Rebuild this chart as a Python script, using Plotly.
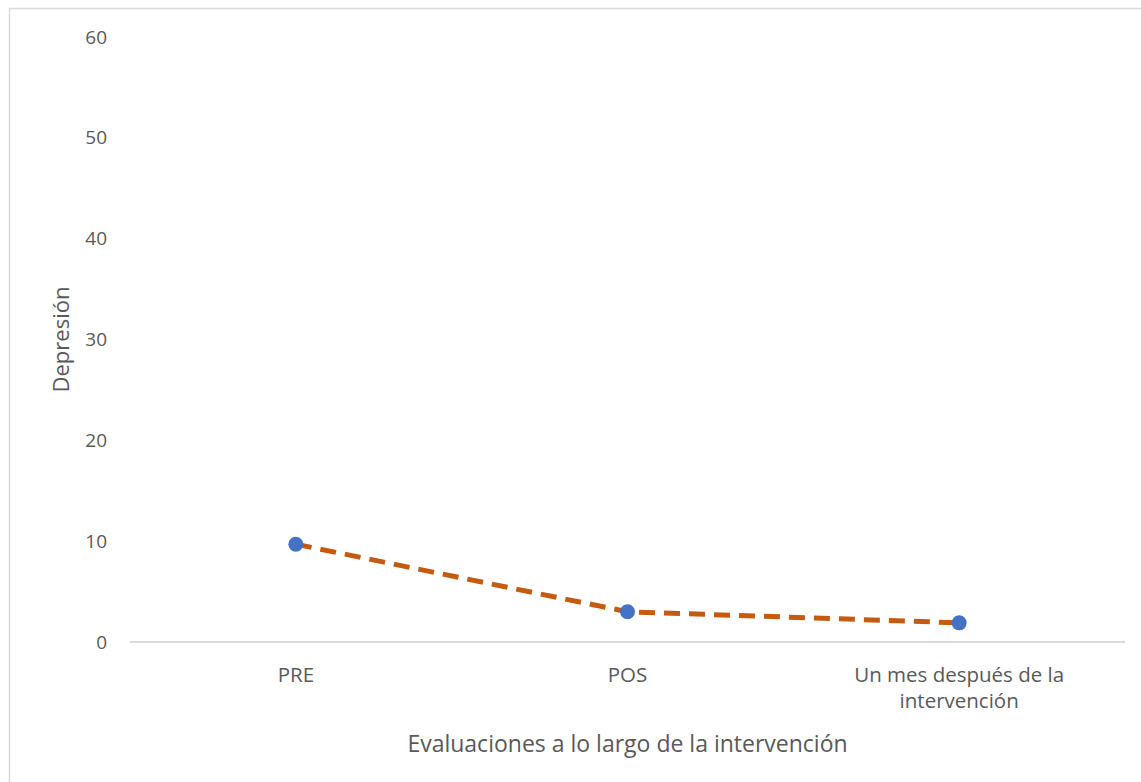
import plotly.graph_objects as go

# Depression scores across the three assessment points
categories = ["PRE", "POS", "Un mes después de la<br>intervención"]
depresion = [9.7, 3.0, 1.9]
y_ticks = [0, 10, 20, 30, 40, 50, 60]

W, H = 1141, 782
L, R, T, B = 130, 16, 37, 140
pw, ph = W - L - R, H - T - B

fig = go.Figure()
fig.add_trace(go.Scatter(
    x=categories, y=depresion, mode="lines+markers",
    line=dict(color="#C55A11", width=5, dash="16px,9px"),
    marker=dict(color="#4472C4", size=15),
    showlegend=False, hoverinfo="skip",
))

font = "Open Sans, Liberation Sans, sans-serif"
fig.update_layout(
    width=W, height=H,
    margin=dict(l=L, r=R, t=T, b=B),
    paper_bgcolor="white", plot_bgcolor="white",
    font=dict(family=font, color="#595959", size=19),
    xaxis=dict(
        range=[-0.5, 2.5], automargin=False,
        showgrid=False, showline=False, zeroline=False,
        ticks="", tickfont=dict(size=20.5), ticklabelstandoff=18,
        title=dict(text="Evaluaciones a lo largo de la intervención",
                   font=dict(size=23), standoff=22),
    ),
    yaxis=dict(
        range=[0, 60], tickvals=y_ticks, showgrid=False, automargin=False,
        zeroline=True, zerolinecolor="#D9D9D9", zerolinewidth=2,
        showline=False, ticks="", tickfont=dict(size=19),
        ticklabelstandoff=22,
        title=dict(text="Depresión", font=dict(size=22), standoff=9),
    ),
)

# thin outer frame of the chart area
def px_x(v):
    return (v - L) / pw

def px_y(v):
    return (H - B - v) / ph

fig.add_shape(type="rect", xref="paper", yref="paper",
              x0=px_x(9.5), x1=px_x(W + 20), y0=px_y(H + 20), y1=px_y(8.5),
              line=dict(color="#D9D9D9", width=1.5), fillcolor="rgba(0,0,0,0)",
              layer="below")

fig.write_html("out.html")
